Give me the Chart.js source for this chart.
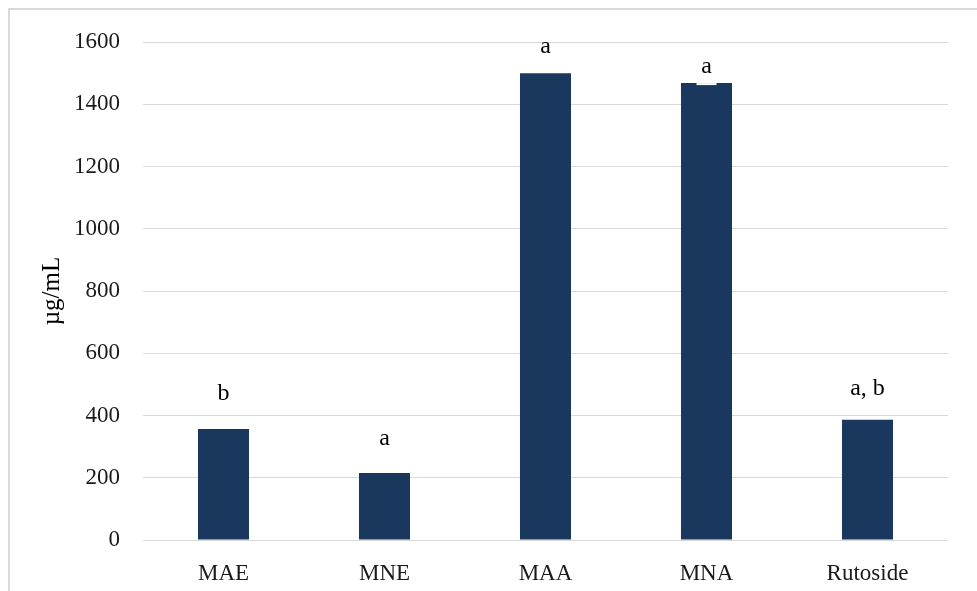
<!DOCTYPE html>
<html>
<head>
<meta charset="utf-8">
<script src="https://cdn.jsdelivr.net/npm/chart.js@4/dist/chart.umd.min.js"></script>
<style>
  html, body { margin: 0; padding: 0; background: #ffffff; }
  #frame {
    position: absolute; left: 8px; top: 8px; width: 980px; height: 600px;
    border-left: 2px solid #d9d9d9; border-top: 2px solid #d9d9d9;
  }
  #wrap { position: absolute; left: 0; top: 0; width: 977px; height: 591px; }
</style>
</head>
<body>
<div id="frame"></div>
<div id="wrap"><canvas id="c" width="977" height="591"></canvas></div>
<script>
// Extracts and reference compound
const categories = ['MAE', 'MNE', 'MAA', 'MNA', 'Rutoside'];
// Concentration, µg/mL
const values = [357, 215, 1500, 1468, 386];
// Standard deviation (upper error bar)
const errors = [62, 58, 32, 0, 50];
// Significance letters shown above each bar
const letters = ['b', 'a', 'a', 'a', 'a, b'];
const yTicks = [0, 200, 400, 600, 800, 1000, 1200, 1400, 1600];

const FONT = '"Liberation Serif", "Times New Roman", serif';
const BAR = '#1a375e';

// White error-bar caps, drawn after the bars
const errorCaps = {
  id: 'errorCaps',
  afterDatasetsDraw(chart) {
    const ctx = chart.ctx;
    const y = chart.scales.y;
    const meta = chart.getDatasetMeta(0);
    ctx.save();
    ctx.strokeStyle = '#ffffff';
    ctx.lineWidth = 2;
    meta.data.forEach((bar, i) => {
      const top = y.getPixelForValue(values[i] + errors[i]);
      ctx.beginPath();
      ctx.moveTo(bar.x - 10, top + 1);
      ctx.lineTo(bar.x + 10, top + 1);
      ctx.stroke();
    });
    ctx.restore();
  }
};

// Letter annotations above the error bars
const letterLabels = {
  id: 'letterLabels',
  afterDatasetsDraw(chart) {
    const ctx = chart.ctx;
    const y = chart.scales.y;
    const meta = chart.getDatasetMeta(0);
    ctx.save();
    ctx.fillStyle = '#000000';
    ctx.font = '24px ' + FONT;
    ctx.textAlign = 'center';
    ctx.textBaseline = 'middle';
    meta.data.forEach((bar, i) => {
      const top = y.getPixelForValue(values[i] + errors[i]);
      ctx.fillText(letters[i], bar.x, top - 16);
    });
    ctx.restore();
  }
};

new Chart(document.getElementById('c'), {
  type: 'bar',
  data: {
    labels: categories,
    datasets: [{
      data: values,
      backgroundColor: BAR,
      borderWidth: 0,
      barPercentage: 0.317,
      categoryPercentage: 1.0
    }]
  },
  options: {
    responsive: false,
    animation: false,
    devicePixelRatio: 1,
    layout: { padding: { left: 12, right: 29, top: 42, bottom: 0 } },
    plugins: { legend: { display: false }, tooltip: { enabled: false } },
    scales: {
      x: {
        grid: { display: false },
        border: { display: false },
        ticks: { color: '#1a1a1a', font: { family: FONT, size: 23 }, padding: 12 },
        afterFit(scale) { scale.height = 51; }
      },
      y: {
        min: 0,
        max: 1600,
        afterBuildTicks(scale) { scale.ticks = yTicks.map(v => ({ value: v })); },
        grid: { color: '#d9d9d9', lineWidth: 1, drawTicks: false },
        border: { display: false },
        ticks: {
          color: '#1a1a1a',
          font: { family: FONT, size: 23 },
          padding: 23,
          callback: (v) => String(v)
        },
        title: {
          display: true,
          text: 'µg/mL',
          color: '#000000',
          font: { family: FONT, size: 25 },
          padding: { top: 25, bottom: 0 }
        },
        afterFit(scale) { scale.width = 131; }
      }
    }
  },
  plugins: [errorCaps, letterLabels]
});
</script>
</body>
</html>
